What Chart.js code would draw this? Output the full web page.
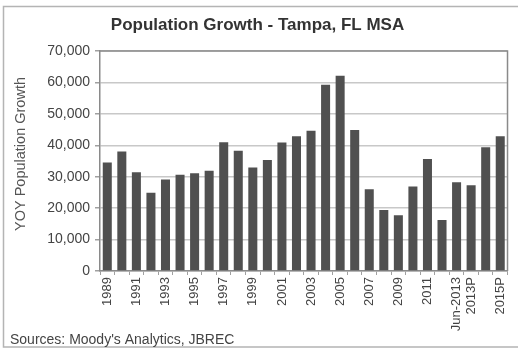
<!DOCTYPE html>
<html>
<head>
<meta charset="utf-8">
<script src="https://cdn.jsdelivr.net/npm/chart.js@4"></script>
<style>
  html, body { margin: 0; padding: 0; background: #fff; }
  #wrap { position: relative; width: 518px; height: 349px; }
</style>
</head>
<body>
<div id="wrap"><canvas id="popChart" width="518" height="349"></canvas></div>
<script>
// YOY population growth, Tampa MSA
const years = ['1989', '1990', '1991', '1992', '1993', '1994', '1995', '1996', '1997', '1998',
  '1999', '2000', '2001', '2002', '2003', '2004', '2005', '2006', '2007', '2008',
  '2009', '2010', '2011', '2012', 'Jun-2013', '2013P', '2014P', '2015P'];
const growth = [34500, 38000, 31400, 24900, 29100, 30600, 31100, 31900, 41000, 38300,
  32900, 35300, 40900, 42900, 44600, 59300, 62100, 44900, 26000, 19400,
  17700, 26900, 35600, 16200, 28200, 27300, 39400, 42900];
// categories that get a label under the axis
const shownLabels = ['1989', '1991', '1993', '1995', '1997', '1999', '2001', '2003', '2005',
  '2007', '2009', '2011', 'Jun-2013', '2013P', '2015P'];
const yTicks = [0, 10000, 20000, 30000, 40000, 50000, 60000, 70000];

Chart.defaults.font.family = '"Liberation Sans", Arial, sans-serif';
Chart.defaults.color = '#444';

// frame around the whole graphic, box round the plot, axis title and the source note
const framePlugin = {
  id: 'frame',
  afterDraw(chart) {
    const c = chart.ctx;
    const a = chart.chartArea;
    c.save();
    c.strokeStyle = '#b4b4b4';
    c.lineWidth = 1.5;
    c.beginPath();
    c.moveTo(518, 6.5);
    c.lineTo(3.5, 6.5);
    c.lineTo(3.5, 347);
    c.lineTo(518, 347);
    c.stroke();

    c.strokeStyle = '#8a8a8a';
    c.lineWidth = 1.5;
    c.beginPath();
    c.moveTo(a.left, a.top);
    c.lineTo(a.right, a.top);
    c.lineTo(a.right, a.bottom);
    c.stroke();

    // y axis title, sits a little above the middle of the plot
    c.save();
    c.translate(20.5, a.top + (a.bottom - a.top) / 2 - 7);
    c.rotate(-Math.PI / 2);
    c.fillStyle = '#555';
    c.font = '14.5px "Liberation Sans", Arial, sans-serif';
    c.textAlign = 'center';
    c.textBaseline = 'middle';
    c.fillText('YOY Population Growth', 0, 0);
    c.restore();

    c.fillStyle = '#444';
    c.font = '14px "Liberation Sans", Arial, sans-serif';
    c.textBaseline = 'alphabetic';
    c.textAlign = 'left';
    c.fillText("Sources: Moody's Analytics, JBREC", 10, 344);
    c.restore();
  }
};

new Chart(document.getElementById('popChart'), {
  type: 'bar',
  data: {
    labels: years,
    datasets: [{
      label: 'YOY Population Growth',
      data: growth,
      backgroundColor: '#505050',
      borderWidth: 0,
      barPercentage: 0.62,
      categoryPercentage: 1
    }]
  },
  options: {
    responsive: false,
    animation: false,
    layout: { padding: { left: 6, right: 9, top: 0, bottom: 18 } },
    plugins: {
      legend: { display: false },
      tooltip: { enabled: false },
      title: {
        display: true,
        text: 'Population Growth - Tampa, FL MSA',
        color: '#333',
        font: { size: 17, weight: 'bold' },
        padding: { top: 15, bottom: 15.6 }
      }
    },
    scales: {
      x: {
        afterFit(scale) { scale.height = 60; },
        grid: {
          display: true,
          offset: true,
          drawOnChartArea: false,
          drawTicks: true,
          tickLength: 4,
          tickColor: '#a0a0a0'
        },
        border: { color: '#8a8a8a', width: 1.5 },
        ticks: {
          autoSkip: false,
          maxRotation: 90,
          minRotation: 90,
          padding: 2,
          color: '#444',
          font: { size: 13 },
          callback(value, index) {
            const cat = years[index];
            return shownLabels.includes(cat) ? cat : '';
          }
        }
      },
      y: {
        min: 0,
        max: 70000,
        afterFit(scale) { scale.width = 94; },
        afterBuildTicks(scale) { scale.ticks = yTicks.map(v => ({ value: v })); },
        grid: {
          color: '#c8c8c8',
          lineWidth: 1.5,
          drawTicks: true,
          tickLength: 5,
          tickColor: '#a0a0a0'
        },
        border: { color: '#8a8a8a', width: 1.5 },
        ticks: {
          padding: 5,
          color: '#444',
          font: { size: 14 },
          callback(value) { return value.toLocaleString('en-US'); }
        }
      }
    }
  },
  plugins: [framePlugin]
});
</script>
</body>
</html>
